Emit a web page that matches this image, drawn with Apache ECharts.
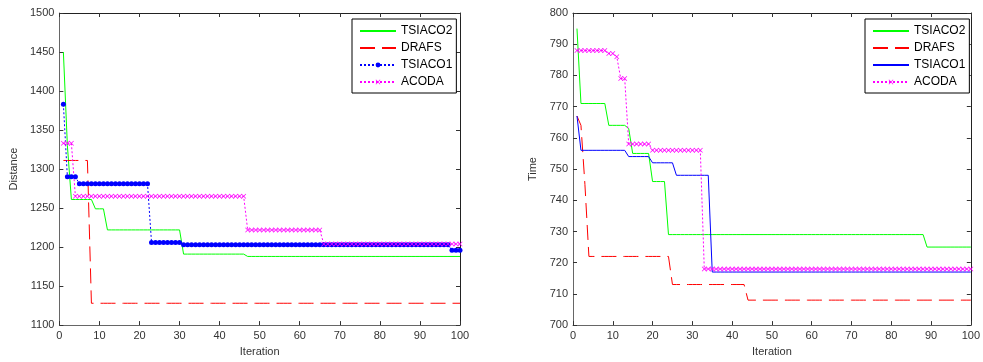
<!DOCTYPE html>
<html>
<head>
<meta charset="utf-8">
<script src="https://cdn.jsdelivr.net/npm/echarts@6/dist/echarts.min.js"></script>
<style>
    html, body { margin: 0; padding: 0; background: #fff; }
    #dist-chart { position: absolute; left: 0; top: 0; width: 500px; height: 362px; }
    #time-chart { position: absolute; left: 500px; top: 0; width: 483px; height: 362px; }
</style>
</head>
<body>
<div id="dist-chart"></div>
<div id="time-chart"></div>
<script>
// runs of [value, number of iterations], iterations 1..100
const distTsiaco2 = [[1450, 1], [1330, 1], [1261, 6], [1249, 3], [1222, 19], [1191, 16], [1188, 54]];
const distDrafs = [[1311, 7], [1128, 93]];
const distTsiaco1 = [[1383, 1], [1290, 3], [1281, 18], [1206, 8], [1203, 67], [1196, 3]];
const distAcoda = [[1333, 3], [1265, 43], [1222, 19], [1204, 35]];

const timeTsiaco2 = [[795, 1], [771, 7], [764, 5], [763, 1], [755, 5], [746, 4], [729, 65], [725, 12]];
const timeDrafs = [[767, 1], [764, 1], [745, 1], [722, 21], [713, 19], [708, 57]];
const timeTsiaco1 = [[767, 1], [756, 12], [754, 6], [752, 6], [748, 9], [717, 66]];
const timeAcoda = [[788, 8], [787, 2], [786, 1], [779, 2], [758, 6], [756, 13], [718, 68]];

const seriesNames = ['TSIACO2', 'DRAFS', 'TSIACO1', 'ACODA'];

const FONT = '"Liberation Sans", Arial, sans-serif';
const xMarker = 'path://M0,1L1,0L5,4L9,0L10,1L6,5L10,9L9,10L5,6L1,10L0,9L4,5Z';

function expand(runs) {
    const out = [];
    let x = 1;
    runs.forEach(([v, n]) => {
        for (let i = 0; i < n; i++) out.push([x++, v]);
    });
    return out;
}

function axisPair(isX, opts) {
    const common = {
        type: 'value', min: opts.min, max: opts.max, interval: opts.interval,
        splitLine: { show: false },
        axisTick: { show: true, inside: true, length: 4, lineStyle: { color: '#333' } }
    };
    const main = Object.assign({}, common, {
        position: isX ? 'bottom' : 'left',
        axisLine: { show: true, onZero: false, lineStyle: { color: '#666', width: 1 } },
        axisLabel: { color: '#333', fontSize: 11, fontFamily: FONT, margin: 5, formatter: v => String(v) },
        name: opts.name, nameLocation: 'middle', nameGap: opts.nameGap,
        nameTextStyle: { color: '#333', fontSize: 11, fontFamily: FONT }
    });
    const other = Object.assign({}, common, {
        position: isX ? 'top' : 'right',
        axisLine: { show: true, onZero: false, lineStyle: { color: '#222', width: 1 } },
        axisLabel: { show: false }
    });
    return [main, other];
}

function lineSeries(name, data, color, opts) {
    return Object.assign({
        name: name, type: 'line', data: expand(data),
        xAxisIndex: 0, yAxisIndex: 0,
        symbol: 'none', silent: true,
        lineStyle: { color: color, width: 1 },
        itemStyle: { color: color }
    }, opts || {});
}

// names whose legend sample is a bare line (no marker)
function legendOpt(left, plainLines) {
    return {
        orient: 'vertical', left: left, top: 19,
        data: seriesNames.map(n => plainLines.includes(n) ? { name: n, itemStyle: { opacity: 0 } } : { name: n }),
        itemWidth: 36, itemHeight: 6, itemGap: 3,
        padding: [5, 4, 4, 7],
        backgroundColor: '#fff', borderColor: '#000', borderWidth: 1,
        textStyle: { color: '#000', fontSize: 12, fontFamily: FONT, lineHeight: 14 },
        selectedMode: false
    };
}

function buildChart(el, cfg) {
    const chart = echarts.init(el);
    chart.setOption({
        animation: false,
        backgroundColor: '#fff',
        grid: { left: cfg.grid[0], right: cfg.grid[1], top: 13, bottom: 34 },
        xAxis: axisPair(true, { min: 0, max: 100, interval: 10, name: 'Iteration', nameGap: 20 }),
        yAxis: axisPair(false, cfg.y),
        legend: legendOpt(cfg.legendLeft, cfg.plainLegend),
        series: cfg.series
    });
    return chart;
}

buildChart(document.getElementById('dist-chart'), {
    grid: [59, 40],
    legendLeft: 352,
    plainLegend: ['TSIACO2', 'DRAFS'],
    y: { min: 1100, max: 1500, interval: 50, name: 'Distance', nameGap: 34 },
    series: [
        lineSeries('TSIACO2', distTsiaco2, '#00ff00'),
        lineSeries('DRAFS', distDrafs, '#ff0000', { lineStyle: { color: '#ff0000', width: 1, type: [15, 7] } }),
        lineSeries('TSIACO1', distTsiaco1, '#0000ff', {
            symbol: 'circle', symbolSize: 5, showSymbol: true,
            lineStyle: { color: '#0000ff', width: 1, type: [2, 2] }
        }),
        lineSeries('ACODA', distAcoda, '#ff00ff', {
            symbol: xMarker, symbolSize: 5, showSymbol: true,
            lineStyle: { color: '#ff00ff', width: 1, type: [2, 2] }
        })
    ]
});

buildChart(document.getElementById('time-chart'), {
    grid: [73, 10],
    legendLeft: 365,
    plainLegend: ['TSIACO2', 'DRAFS', 'TSIACO1'],
    y: { min: 700, max: 800, interval: 10, name: 'Time', nameGap: 27 },
    series: [
        lineSeries('TSIACO2', timeTsiaco2, '#00ff00'),
        lineSeries('DRAFS', timeDrafs, '#ff0000', { lineStyle: { color: '#ff0000', width: 1, type: [15, 7] } }),
        lineSeries('TSIACO1', timeTsiaco1, '#0000ff'),
        lineSeries('ACODA', timeAcoda, '#ff00ff', {
            symbol: xMarker, symbolSize: 5, showSymbol: true,
            lineStyle: { color: '#ff00ff', width: 1, type: [2, 2] }
        })
    ]
});
</script>
</body>
</html>
